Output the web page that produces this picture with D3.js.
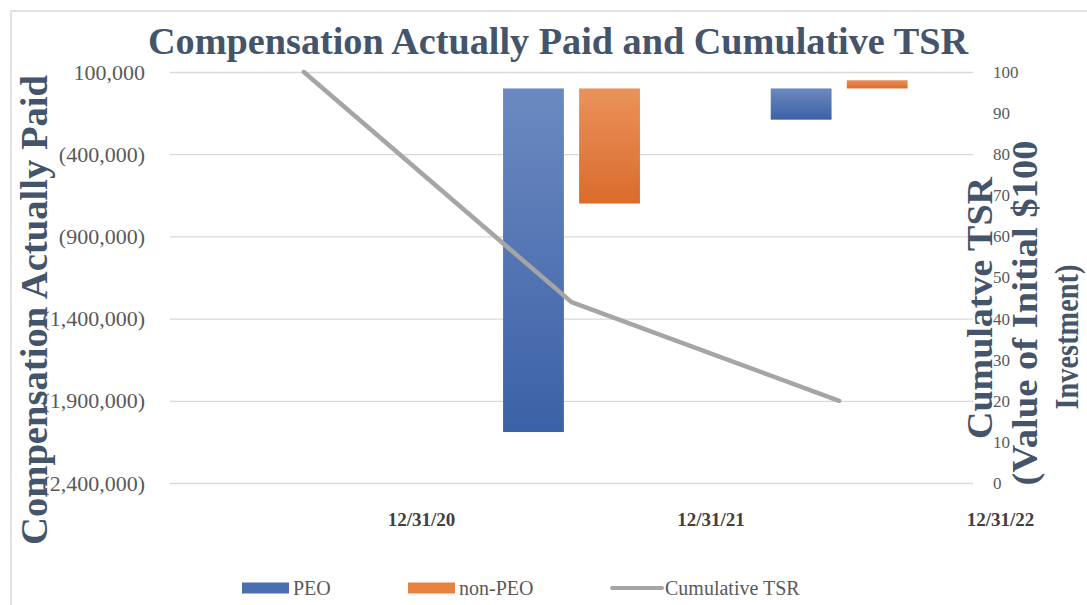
<!DOCTYPE html>
<html>
<head>
<meta charset="utf-8">
<script src="https://cdn.jsdelivr.net/npm/d3@7"></script>
<style>
  body { margin: 0; background: #fff; }
  svg { font-family: "Liberation Serif", "Times New Roman", serif; }
</style>
</head>
<body>
<div id="chart"></div>
<script>
// chart values
const categories = ["12/31/20", "12/31/21", "12/31/22"];
const seriesNames = ["PEO", "non-PEO"];
const peoValues = [null, -2090000, -190000];
const nonPeoValues = [null, -700000, 50000];
const tsrValues = [100, 44, 20];
const leftTicks = [100000, -400000, -900000, -1400000, -1900000, -2400000];
const rightTicks = [0, 10, 20, 30, 40, 50, 60, 70, 80, 90, 100];
const rightTitleLines = ["Cumulatve TSR", "(Value of Initial $100", "Investment)"];

const width = 1087, height = 605;
const plot = { left: 170, right: 973, top: 72, bottom: 483 };

let svg = d3.select("#chart").append("svg")
    .attr("width", width)
    .attr("height", height);

// outer frame of the chart area
svg.append("rect")
    .attr("x", 11).attr("y", 11)
    .attr("width", width).attr("height", height)
    .attr("fill", "none")
    .attr("stroke", "#d9d9d9")
    .attr("stroke-width", 1.5);

// gradients for bars
let defs = svg.append("defs");
function addGradient(id, top, bottom) {
    let g = defs.append("linearGradient")
        .attr("id", id)
        .attr("x1", 0).attr("y1", 0).attr("x2", 0).attr("y2", 1);
    g.append("stop").attr("offset", "0%").attr("stop-color", top);
    g.append("stop").attr("offset", "100%").attr("stop-color", bottom);
}
addGradient("gradPeo", "#6c89c1", "#3b61a6");
addGradient("gradNon", "#ea925c", "#da6b2b");
const fills = { "PEO": "url(#gradPeo)", "non-PEO": "url(#gradNon)" };

// scales
let x = d3.scaleBand().domain(categories).range([plot.left, plot.right]);
let xSub = d3.scaleBand().domain(seriesNames)
    .range([0, x.bandwidth()])
    .paddingInner(0.2)
    .paddingOuter(0.86);
// the category labels in the picture are not under the band centres
let xLabel = d3.scalePoint().domain(categories).range([421, 1000]);
let y = d3.scaleLinear().domain([-2400000, 100000]).range([plot.bottom, plot.top]);
let y2 = d3.scaleLinear().domain([0, 100]).range([plot.bottom, plot.top]);

// left axis with grid lines
let fmt = d3.format(",");
let leftAxis = d3.axisLeft(y)
    .tickValues(leftTicks)
    .tickSize(-(plot.right - plot.left))
    .tickPadding(25)
    .tickFormat(function(v) { return v < 0 ? "(" + fmt(-v) + ")" : fmt(v); });
let gLeft = svg.append("g")
    .attr("transform", "translate(" + plot.left + ",0)")
    .call(leftAxis);
gLeft.select(".domain").remove();
gLeft.selectAll(".tick line").attr("stroke", "#d9d9d9").attr("stroke-width", 1.3);
gLeft.selectAll(".tick text")
    .attr("fill", "#595959")
    .style("font-size", "22px")
    .style("font-family", "Liberation Serif");

// right axis
let rightAxis = d3.axisRight(y2).tickValues(rightTicks).tickSize(0).tickPadding(20);
let gRight = svg.append("g")
    .attr("transform", "translate(" + plot.right + ",0)")
    .call(rightAxis);
gRight.select(".domain").remove();
gRight.selectAll(".tick text")
    .attr("fill", "#595959")
    .style("font-size", "17px")
    .style("font-family", "Liberation Serif");

// bottom category axis
let bottomAxis = d3.axisBottom(xLabel).tickSize(0).tickPadding(30);
let gBottom = svg.append("g")
    .attr("transform", "translate(0," + plot.bottom + ")")
    .call(bottomAxis);
gBottom.select(".domain").remove();
gBottom.selectAll(".tick text")
    .attr("fill", "#404040")
    .style("font-size", "19px")
    .style("font-weight", "bold")
    .style("font-family", "Liberation Serif");

// bars
let rows = categories.map(function(c, i) {
    return { cat: c, values: [
        { name: "PEO", value: peoValues[i] },
        { name: "non-PEO", value: nonPeoValues[i] }
    ] };
});
svg.append("g").selectAll("g")
    .data(rows)
    .join("g")
    .attr("transform", function(d) { return "translate(" + x(d.cat) + ",0)"; })
    .selectAll("rect")
    .data(function(d) { return d.values.filter(function(v) { return v.value !== null; }); })
    .join("rect")
    .attr("x", function(d) { return xSub(d.name); })
    .attr("width", xSub.bandwidth())
    .attr("y", function(d) { return y(Math.max(0, d.value)); })
    .attr("height", function(d) { return Math.abs(y(d.value) - y(0)); })
    .attr("fill", function(d) { return fills[d.name]; });

// TSR line
let tsrLine = d3.line()
    .x(function(d, i) { return x(categories[i]) + x.bandwidth() / 2; })
    .y(function(d) { return y2(d); });
svg.append("path")
    .datum(tsrValues)
    .attr("fill", "none")
    .attr("stroke", "#a5a5a5")
    .attr("stroke-width", 4.5)
    .attr("stroke-linecap", "round")
    .attr("stroke-linejoin", "round")
    .attr("d", tsrLine);

// titles
svg.append("text")
    .attr("x", 558).attr("y", 54)
    .attr("text-anchor", "middle")
    .attr("textLength", 820)
    .attr("lengthAdjust", "spacingAndGlyphs")
    .attr("fill", "#44546a")
    .style("font-size", "38px")
    .style("font-weight", "bold")
    .text("Compensation Actually Paid and Cumulative TSR");

svg.append("text")
    .attr("transform", "translate(47,310) rotate(-90)")
    .attr("text-anchor", "middle")
    .attr("textLength", 470)
    .attr("lengthAdjust", "spacingAndGlyphs")
    .attr("fill", "#44546a")
    .style("font-size", "37px")
    .style("font-weight", "bold")
    .text("Compensation Actually Paid");

let rightCenters = [308, 313, 337];
let rightLengths = [262, 345, 145];
let rightBaselines = [992, 1037, 1078];
svg.append("g").selectAll("text")
    .data(rightTitleLines)
    .join("text")
    .attr("transform", function(d, i) {
        return "translate(" + rightBaselines[i] + "," + rightCenters[i] + ") rotate(-90)";
    })
    .attr("text-anchor", "middle")
    .attr("textLength", function(d, i) { return rightLengths[i]; })
    .attr("lengthAdjust", "spacingAndGlyphs")
    .attr("fill", "#44546a")
    .style("font-size", function(d, i) { return i === 2 ? "34px" : "35px"; })
    .style("font-weight", "bold")
    .text(function(d) { return d; });

// legend
let legendItems = [
    { name: "PEO", kind: "bar", fill: "#4a6fb1", x: 242 },
    { name: "non-PEO", kind: "bar", fill: "#e8823f", x: 408 },
    { name: "Cumulative TSR", kind: "line", fill: "#a5a5a5", x: 610 }
];
let legend = svg.append("g").selectAll("g")
    .data(legendItems)
    .join("g")
    .attr("transform", function(d) { return "translate(" + d.x + ",588)"; });
legend.filter(function(d) { return d.kind === "bar"; })
    .append("rect")
    .attr("x", 0).attr("y", -5.5)
    .attr("width", 47).attr("height", 11)
    .attr("fill", function(d) { return d.fill; });
legend.filter(function(d) { return d.kind === "line"; })
    .append("line")
    .attr("x1", 2).attr("x2", 52)
    .attr("stroke", function(d) { return d.fill; })
    .attr("stroke-width", 4)
    .attr("stroke-linecap", "round");
legend.append("text")
    .attr("x", function(d) { return d.kind === "bar" ? 51 : 55; })
    .attr("dy", "0.35em")
    .attr("fill", "#595959")
    .style("font-size", "20px")
    .style("font-family", "Liberation Serif")
    .text(function(d) { return d.name; });
</script>
</body>
</html>
